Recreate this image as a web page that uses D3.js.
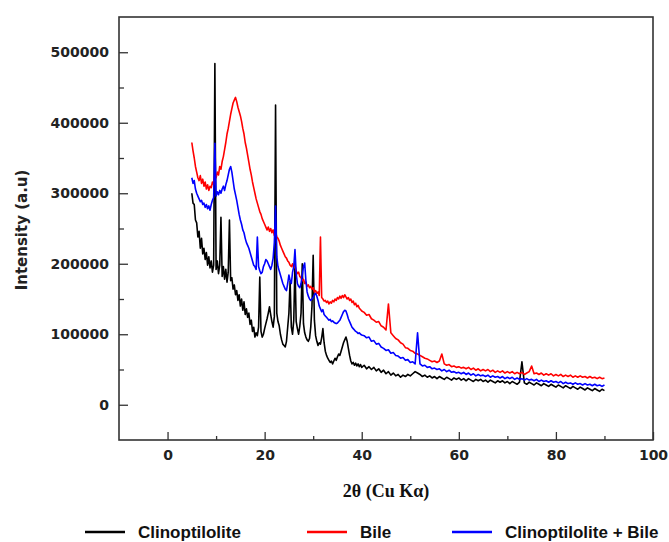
<!DOCTYPE html>
<html lang="en">
    <head>
        <meta charset="utf-8">
        <title>XRD patterns</title>
        <style>
            body { margin: 0; background: #fff; }
            .tick text { font-family: "DejaVu Sans", sans-serif; font-weight: bold; font-size: 14px; fill: #222; }
            .tick line { stroke: #333; stroke-width: 1.3px; }
            .trace { fill: none; stroke-width: 1.6px; stroke-linejoin: round; }
            .legend text { font-family: "Liberation Sans", Arial, sans-serif; font-weight: bold; font-size: 17px; fill: #111; }
        </style>
    </head>
    <body>
        <script src="https://cdnjs.cloudflare.com/ajax/libs/d3/7.8.5/d3.min.js"></script>
        <script type="text/javascript">

            // 2-theta sampling: 0.25 deg up to 40, then 0.5 deg up to 90
            var twoTheta = d3.range(5, 40.001, 0.25).concat(d3.range(40.5, 90.001, 0.5));

            // intensities in thousands of counts
            var clinoptilolite = [
                300,286,284,262,258,238,246,222,236,214,   // 5.00 - 7.25
                222,206,216,198,210,194,204,188,198,484,   // 7.50 - 9.75
                192,204,186,198,266,182,196,178,192,174,   // 10.00 - 12.25
                188,262,176,180,164,170,156,162,148,156,   // 12.50 - 14.75
                140,150,134,146,128,136,124,130,114,120,   // 15.00 - 17.25
                104,110,96,102,98,110,181,104,96,100,      // 17.50 - 19.75
                108,115,122,130,139,128,118,110,125,425,   // 20.00 - 22.25
                130,118,112,100,92,86,84,82,90,110,        // 22.50 - 24.75
                130,175,110,100,120,200,118,108,100,112,   // 25.00 - 27.25
                130,200,115,102,96,92,90,94,110,140,       // 27.50 - 29.75
                212,120,98,90,84,88,86,95,108,88,          // 30.00 - 32.25
                76,70,66,63,60,62,58,62,66,63,             // 32.50 - 34.75
                68,72,70,76,82,88,92,96,90,80,             // 35.00 - 37.25
                70,62,58,60,56,59,55,58,54,57,             // 37.50 - 39.75
                53,                                        // 40.00
                56,51,54,50,53,48,51,46,49,44,             // 40.5 - 45.0
                47,42,45,41,43,39,42,40,43,41,             // 45.5 - 50.0
                44,47,45,43,40,42,39,41,38,40,             // 50.5 - 55.0
                37,40,38,36,39,37,35,38,36,38,             // 55.5 - 60.0
                35,37,34,37,35,33,36,34,36,33,             // 60.5 - 65.0
                35,32,35,33,31,34,32,34,31,33,             // 65.5 - 70.0
                30,33,31,29,32,61,31,29,32,30,             // 70.5 - 75.0
                28,31,29,27,30,28,26,29,27,25,             // 75.5 - 80.0
                28,26,24,27,25,23,26,24,22,25,             // 80.5 - 85.0
                23,21,24,22,20,23,21,19,22,20              // 85.5 - 90.0
            ];

            var bile = [
                372,360,350,338,330,322,318,325,314,320,
                310,316,306,312,304,310,308,316,312,330,
                322,330,326,338,334,345,352,362,372,384,
                392,402,412,420,428,432,436,430,422,416,
                410,402,392,384,372,364,354,344,334,326,
                316,308,300,292,286,280,274,270,264,260,
                256,252,248,252,246,250,244,248,240,246,
                238,236,232,226,222,218,214,210,208,204,
                202,198,196,200,194,198,190,186,188,182,
                180,176,178,172,174,168,170,166,168,164,
                166,160,162,158,160,155,238,152,150,147,
                148,145,147,143,146,144,148,146,150,148,
                152,150,154,151,155,152,156,153,150,152,
                148,150,145,147,142,144,139,141,137,135,
                133,
                131,127,128,122,120,117,118,112,110,106,
                143,102,98,94,92,88,86,81,80,77,
                76,73,72,70,68,66,65,63,61,62,
                60,62,72,58,56,57,54,55,53,54,
                52,53,51,53,50,52,49,51,48,50,
                48,50,47,49,46,48,46,48,45,47,
                45,47,44,46,44,46,43,45,47,55,
                44,45,43,45,42,44,42,44,41,43,
                41,43,40,42,40,42,39,41,39,41,
                39,40,38,40,38,39,37,39,37,38
            ];

            var clinoBile = [
                322,314,318,306,300,296,292,288,290,284,
                286,280,284,278,282,276,284,290,294,371,
                296,302,298,304,300,306,310,304,312,318,
                326,334,338,330,318,306,298,290,280,270,
                262,256,248,244,236,230,226,222,216,210,
                204,198,196,192,238,196,190,186,188,196,
                200,206,204,200,196,192,198,208,230,282,
                210,196,190,184,178,172,168,164,162,172,
                184,176,172,188,196,220,186,172,168,166,
                172,184,196,201,176,160,154,150,148,150,
                152,156,158,154,148,140,136,132,135,128,
                126,124,122,120,121,118,119,117,116,115,
                116,118,120,124,128,132,134,133,128,122,
                118,114,110,108,106,104,103,101,102,100,
                99,
                98,95,96,90,91,86,87,82,80,77,
                78,73,74,70,69,66,67,63,64,60,
                61,58,102,58,55,56,53,54,51,52,
                50,51,48,50,47,49,46,47,45,46,
                44,46,43,45,42,44,41,43,41,42,
                40,42,39,41,39,40,38,40,37,39,
                37,39,36,38,36,37,35,37,35,36,
                34,36,33,35,33,34,32,34,32,33,
                31,33,30,32,30,31,29,31,29,30,
                28,30,28,29,27,29,27,28,26,28
            ];

            var seriesNames = ["Clinoptilolite", "Bile", "Clinoptilolite + Bile"];
            var seriesColors = ["#000000", "#ff0000", "#0000ff"];
            var seriesValues = [clinoptilolite, bile, clinoBile];

            var xMajor = [0, 20, 40, 60, 80, 100],
                xMinor = [10, 30, 50, 70, 90],
                yMajor = [0, 100000, 200000, 300000, 400000, 500000],
                yMinor = [50000, 150000, 250000, 350000, 450000];

            var W = 669, H = 542;
            var plot = {left: 119, right: 653, top: 17, bottom: 440};

            var svg = d3.select("body")
                .append("svg")
                .attr("width", W)
                .attr("height", H);

            var xScale = d3.scaleLinear()
                .domain([-10, 100])
                .range([plot.left, plot.right]);

            var yScale = d3.scaleLinear()
                .domain([-50000, 550000])
                .range([plot.bottom, plot.top]);

            // traces
            var line = d3.line()
                .x((d, i) => xScale(twoTheta[i]))
                .y(d => yScale(d * 1000));

            seriesValues.forEach(function(vals, k) {
                svg.append("path")
                    .datum(vals)
                    .attr("class", "trace")
                    .attr("stroke", seriesColors[k])
                    .attr("d", line);
            });

            // axes, ticks pointing inward
            svg.append("g")
                .attr("transform", "translate(" + plot.left + ",0)")
                .call(d3.axisLeft(yScale).tickValues(yMajor).tickSizeInner(-9).tickSizeOuter(0).tickPadding(10).tickFormat(d3.format("d")))
                .call(g => g.select(".domain").remove());

            svg.append("g")
                .attr("transform", "translate(" + plot.left + ",0)")
                .call(d3.axisLeft(yScale).tickValues(yMinor).tickSizeInner(-5).tickSizeOuter(0).tickFormat(""))
                .call(g => g.select(".domain").remove());

            svg.append("g")
                .attr("transform", "translate(0," + plot.bottom + ")")
                .call(d3.axisBottom(xScale).tickValues(xMajor).tickSizeInner(-8).tickSizeOuter(0).tickPadding(10))
                .call(g => g.select(".domain").remove());

            svg.append("g")
                .attr("transform", "translate(0," + plot.bottom + ")")
                .call(d3.axisBottom(xScale).tickValues(xMinor).tickSizeInner(-4).tickSizeOuter(0).tickFormat(""))
                .call(g => g.select(".domain").remove());

            // frame
            svg.append("rect")
                .attr("x", plot.left)
                .attr("y", plot.top)
                .attr("width", plot.right - plot.left)
                .attr("height", plot.bottom - plot.top)
                .attr("fill", "none")
                .attr("stroke", "#333")
                .attr("stroke-width", 1.6);

            // axis titles
            svg.append("text")
                .attr("transform", "translate(27,230) rotate(-90)")
                .style("text-anchor", "middle")
                .style("font-family", "DejaVu Sans, sans-serif")
                .style("font-weight", "bold")
                .style("font-size", "15px")
                .attr("fill", "#222")
                .text("Intensity (a.u)");

            svg.append("text")
                .attr("x", 386)
                .attr("y", 497)
                .style("text-anchor", "middle")
                .style("font-family", "Liberation Serif, Times New Roman, serif")
                .style("font-weight", "bold")
                .style("font-size", "18px")
                .attr("fill", "#111")
                .text("2\u03b8 (Cu K\u03b1)");

            // legend
            var legendX = [85, 307, 452];
            var legend = svg.append("g").attr("class", "legend");
            seriesNames.forEach(function(name, k) {
                legend.append("line")
                    .attr("x1", legendX[k]).attr("x2", legendX[k] + 40)
                    .attr("y1", 532).attr("y2", 532)
                    .attr("stroke", seriesColors[k])
                    .attr("stroke-width", 2.5);
                legend.append("text")
                    .attr("x", legendX[k] + 53)
                    .attr("y", 538)
                    .text(name);
            });

        </script>
    </body>
</html>
